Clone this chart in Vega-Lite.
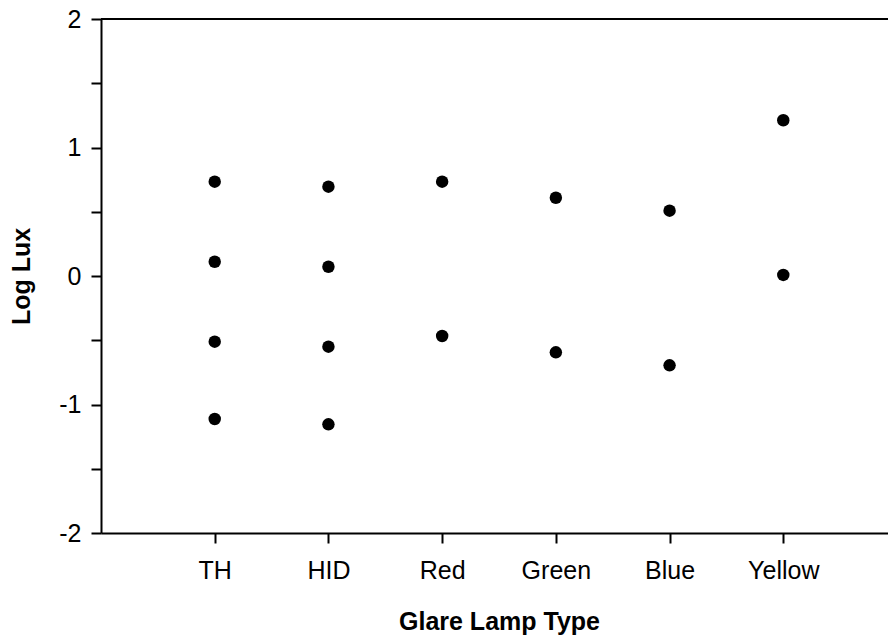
{
  "$schema": "https://vega.github.io/schema/vega-lite/v6.json",
  "width": 787,
  "height": 514,
  "autosize": {"type": "none"},
  "padding": {"left": 101, "top": 19, "right": 0, "bottom": 103},
  "background": "white",
  "config": {
    "view": {"stroke": null},
    "font": "Liberation Sans",
    "axis": {
      "domainColor": "black",
      "domainWidth": 2,
      "tickColor": "black",
      "tickWidth": 2,
      "tickSize": 10,
      "labelColor": "black",
      "labelFont": "Liberation Sans",
      "labelFontSize": 25,
      "titleFont": "Liberation Sans",
      "titleFontSize": 25,
      "titleFontWeight": "bold",
      "titleColor": "black",
      "grid": false
    }
  },
  "data": {
    "values": [
      {"lamp": "TH", "loglux": 0.734},
      {"lamp": "TH", "loglux": 0.111},
      {"lamp": "TH", "loglux": -0.511},
      {"lamp": "TH", "loglux": -1.113},
      {"lamp": "HID", "loglux": 0.695},
      {"lamp": "HID", "loglux": 0.072},
      {"lamp": "HID", "loglux": -0.55},
      {"lamp": "HID", "loglux": -1.154},
      {"lamp": "Red", "loglux": 0.734},
      {"lamp": "Red", "loglux": -0.467},
      {"lamp": "Green", "loglux": 0.609},
      {"lamp": "Green", "loglux": -0.594},
      {"lamp": "Blue", "loglux": 0.508},
      {"lamp": "Blue", "loglux": -0.695},
      {"lamp": "Yellow", "loglux": 1.212},
      {"lamp": "Yellow", "loglux": 0.008}
    ]
  },
  "layer": [
    {
      "mark": {"type": "rule", "color": "black", "strokeWidth": 2},
      "encoding": {"y": {"datum": 2, "type": "quantitative"}}
    },
    {
      "mark": {"type": "circle", "color": "black", "opacity": 1, "size": 155},
      "encoding": {
        "x": {
          "field": "lamp",
          "type": "nominal",
          "sort": ["TH", "HID", "Red", "Green", "Blue", "Yellow"],
          "scale": {"type": "point", "range": [0, 796], "padding": 1.018},
          "axis": {
            "title": "Glare Lamp Type",
            "labelAngle": 0,
            "labelPadding": 15,
            "titlePadding": 26
          }
        },
        "y": {
          "field": "loglux",
          "type": "quantitative",
          "scale": {"domain": [-2, 2], "nice": false, "zero": false},
          "axis": {
            "title": "Log Lux",
            "values": [-2, -1.5, -1, -0.5, 0, 0.5, 1, 1.5, 2],
            "labelExpr": "datum.value % 1 === 0 ? (datum.value < 0 ? '-' + abs(datum.value) : '' + datum.value) : ''",
            "labelPadding": 10,
            "titlePadding": 24
          }
        }
      }
    }
  ]
}
